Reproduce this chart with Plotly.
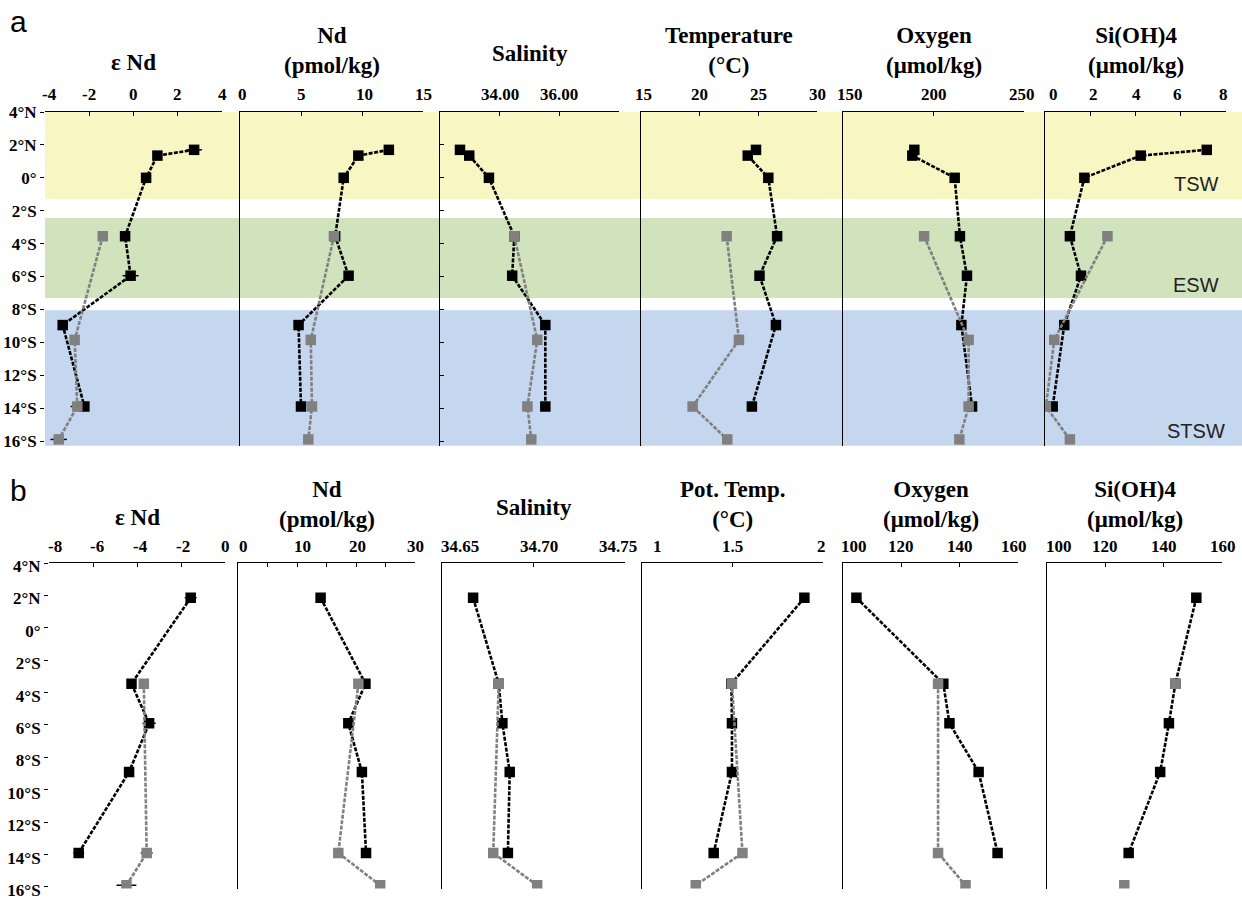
import plotly.graph_objects as go

# ---------------- data: row a (upper ocean) ----------------
lat_a_dark = [1.7, 1.35, 0.0, -3.55, -5.95, -8.95, -13.9]
lat_a_grey = [-3.55, -9.85, -13.9, -15.9]

end_a_dark = [2.74, 1.08, 0.57, -0.38, -0.13, -3.2, -2.22]
end_a_grey = [-1.39, -2.66, -2.54, -3.38]
end_a_dark_err = [0.35, 0, 0, 0, 0.36, 0, 0]
end_a_grey_err = [0, 0, 0.3, 0.37]
nd_a_dark = [12.2, 9.7, 8.5, 7.8, 8.9, 4.8, 5.0]
nd_a_grey = [7.7, 5.8, 5.9, 5.6]
sal_a_dark = [32.67, 32.98, 33.64, 34.49, 34.42, 35.53, 35.53]
sal_a_grey = [34.49, 35.26, 34.93, 35.06]
temp_a_dark = [24.8, 24.1, 25.85, 26.6, 25.1, 26.5, 24.45]
temp_a_grey = [22.3, 23.35, 19.4, 22.35]
oxy_a_dark = [189.4, 188.3, 211.7, 214.6, 218.5, 215.4, 221.3]
oxy_a_grey = [194.8, 219.4, 219.4, 214.3]
si_a_dark = [7.15, 4.23, 1.74, 1.1, 1.59, 0.85, 0.34]
si_a_grey = [2.76, 0.41, 0.04, 1.1]

# ---------------- data: row b (deep water) ----------------
lat_b_dark = [1.85, -3.45, -5.9, -8.9, -13.9]
lat_b_grey = [-3.45, -13.9, -15.9]

end_b_dark = [-1.56, -4.25, -3.45, -4.36, -6.65]
end_b_grey = [-3.69, -3.56, -4.48]
end_b_dark_err = [0.27, 0, 0.3, 0, 0.25]
end_b_grey_err = [0, 0.27, 0.45]
nd_b_dark = [14.0, 21.6, 18.7, 21.0, 21.7]
nd_b_grey = [20.4, 17.0, 24.1]
sal_b_dark = [34.667, 34.681, 34.683, 34.687, 34.686]
sal_b_grey = [34.681, 34.678, 34.702]
ptemp_b_dark = [1.897, 1.494, 1.497, 1.497, 1.396]
ptemp_b_grey = [1.497, 1.555, 1.297]
oxy_b_dark = [104.6, 134.4, 136.5, 146.5, 153.0]
oxy_b_grey = [132.6, 132.6, 142.0]
si_b_dark = [151.2, 144.0, 141.8, 138.8, 128.0]
si_b_grey = [144.0, None, 126.5]

# latitude ticks
lat_ticks = [4, 2, 0, -2, -4, -6, -8, -10, -12, -14, -16]
lat_labels = ["4°N", "2°N", "0°", "2°S", "4°S", "6°S", "8°S", "10°S", "12°S", "14°S", "16°S"]

# water-mass bands (latitude extents) for row a, with label latitude
bands = [
    ("TSW", 4.0, -1.3, "#F8F6C2", -0.4),
    ("ESW", -2.45, -7.3, "#D1E3BD", -6.5),
    ("STSW", -8.05, -16.3, "#C5D6EF", -15.4),
]

W, H = 1242, 899


def px(x):
    return x / W


def py(y):
    return 1 - y / H


SERIF = "Liberation Serif"
SANS = "Liberation Sans"
DARK = "#000000"
GREY = "#808080"

# panel definitions:
# (title, title y offset, x pixel span, range, tick values, tick labels, label x-shifts,
#  dark series, grey series, error bars)
row_a = [
    ("ε Nd", 1, (45, 222), [-4, 4], [-4, -2, 0, 2, 4], ["-4", "-2", "0", "2", "4"],
     [4, 0, 0, 0, 0], end_a_dark, end_a_grey, (end_a_dark_err, end_a_grey_err)),
    ("Nd<br>(pmol/kg)", 0, (240, 423), [0, 15], [0, 5, 10, 15], ["0", "5", "10", "15"],
     [2, 0, 2, 0], nd_a_dark, nd_a_grey, None),
    ("Salinity", -9, (440, 619), [32, 38], [32, 34, 36, 38], ["", "34.00", "36.00", ""],
     [0, 0, 0, 0], sal_a_dark, sal_a_grey, None),
    ("Temperature<br>(°C)", 0, (641, 817), [15, 30], [15, 20, 25, 30], ["15", "20", "25", "30"],
     [2, 0, 0, 0], temp_a_dark, temp_a_grey, None),
    ("Oxygen<br>(μmol/kg)", 0, (843, 1024), [150, 250], [150, 200, 250], ["150", "200", "250"],
     [7, 0, -2], oxy_a_dark, oxy_a_grey, None),
    ("Si(OH)4<br>(μmol/kg)", 0, (1045, 1226), [0, 8], [0, 2, 4, 6, 8], ["0", "2", "4", "6", "8"],
     [8, 3, 1, -3, -3], si_a_dark, si_a_grey, None),
]
row_b = [
    ("ε Nd", 1, (49, 225), [-8, 0], [-8, -6, -4, -2, 0], ["-8", "-6", "-4", "-2", "0"],
     [6, 4, 3, 2, 0], end_b_dark, end_b_grey, (end_b_dark_err, end_b_grey_err)),
    ("Nd<br>(pmol/kg)", 0, (238, 415), [0, 30], [0, 10, 20, 30], ["0", "10", "20", "30"],
     [5, 5, 1, 0], nd_b_dark, nd_b_grey, None),
    ("Salinity", -9, (442, 625), [34.65, 34.75], [34.65, 34.70, 34.75], ["34.65", "34.70", "34.75"],
     [18, 5, -7], sal_b_dark, sal_b_grey, None),
    ("Pot. Temp.<br>(°C)", 0, (642, 823), [1, 2], [1, 1.5, 2], ["1", "1.5", "2"],
     [15, 0, -2], ptemp_b_dark, ptemp_b_grey, None),
    ("Oxygen<br>(μmol/kg)", 0, (843, 1018), [100, 160], [100, 120, 140, 160], ["100", "120", "140", "160"],
     [11, 0, 0, -4], oxy_b_dark, oxy_b_grey, None),
    ("Si(OH)4<br>(μmol/kg)", 0, (1047, 1222), [100, 160], [100, 120, 140, 160], ["100", "120", "140", "160"],
     [12, 0, 0, 1], si_b_dark, si_b_grey, None),
]

rows = [
    # (panels, lat dark, lat grey, y top px, y bottom px, y range, title baseline px, label shift)
    (row_a, lat_a_dark, lat_a_grey, 112, 446, [-16.3, 4], 62, 0),
    (row_b, lat_b_dark, lat_b_grey, 563, 888.6, [-16.1, 4], 516, 3),
]

fig = go.Figure()
layout = {}
annotations = []
shapes = []

idx = 0
for r, (panels, lat_d, lat_g, ytop, ybot, yrange, title_y, lshift) in enumerate(rows):
    for p, (title, toff, (x0, x1), xr, tv, tt, tshift, vd, vg, errs) in enumerate(panels):
        idx += 1
        xa = "x" if idx == 1 else f"x{idx}"
        ya = "y" if idx == 1 else f"y{idx}"
        xkey = "xaxis" if idx == 1 else f"xaxis{idx}"
        ykey = "yaxis" if idx == 1 else f"yaxis{idx}"

        dark_err = dict(type="data", array=errs[0], visible=True, color=DARK,
                        thickness=1.5, width=0) if errs else None
        grey_err = dict(type="data", array=errs[1], visible=True, color=DARK,
                        thickness=1.5, width=0) if errs else None

        fig.add_trace(go.Scatter(
            x=vd, y=lat_d, xaxis=xa, yaxis=ya, mode="lines+markers",
            line=dict(color=DARK, width=2.6, dash="4px,1.5px"),
            marker=dict(symbol="square", size=10.5, color=DARK),
            error_x=dark_err, showlegend=False, connectgaps=False))
        fig.add_trace(go.Scatter(
            x=vg, y=lat_g, xaxis=xa, yaxis=ya, mode="lines+markers",
            line=dict(color=GREY, width=2.6, dash="4px,1.5px"),
            marker=dict(symbol="square", size=10.5, color=GREY),
            error_x=grey_err, showlegend=False, connectgaps=False))

        first = p == 0
        layout[xkey] = dict(
            domain=[px(x0), px(x1)], range=xr, side="top", anchor=ya,
            showline=True, linecolor="black", linewidth=1.2,
            ticks="inside", ticklen=4, tickcolor="black",
            tickvals=tv, showticklabels=False, automargin=False,
            showgrid=False, zeroline=False, fixedrange=True,
        )
        if r == 1 and p == 1:
            layout[xkey]["minor"] = dict(ticks="inside", ticklen=4, tickcolor="black", dtick=5)
        layout[ykey] = dict(
            domain=[py(ybot), py(ytop)], range=yrange, anchor=xa,
            showline=not first, linecolor="black", linewidth=1.2,
            ticks="outside" if first else ("inside" if (r == 0 and p == 2) else ""),
            ticklen=4, tickcolor="black", automargin=False,
            tickvals=lat_ticks, ticktext=lat_labels,
            showticklabels=first, ticklabeloverflow="allow", ticklabelshift=lshift,
            tickfont=dict(family=SERIF, size=17, color="black", weight="bold"),
            showgrid=False, zeroline=False, fixedrange=True,
        )

        # value labels above each axis, placed on the axis scale
        for v, lab, sh in zip(tv, tt, tshift):
            if not lab:
                continue
            annotations.append(dict(
                text=lab, x=v, xref=xa, y=py(ytop - 17), yref="paper", xshift=sh,
                showarrow=False, xanchor="center", yanchor="middle",
                font=dict(family=SERIF, size=17, color="black", weight="bold")))

        # panel title (bold serif, one or two lines)
        cx = px((x0 + x1) / 2)
        tfont = dict(family=SERIF, size=23, color="black", weight="bold")
        ty = title_y + toff if "<br>" not in title else title_y - 12
        annotations.append(dict(
            text=title, x=cx, y=py(ty), xref="paper", yref="paper",
            showarrow=False, xanchor="center", yanchor="middle", font=tfont))

# water-mass bands behind row a
for name, top, bot, color, ylab in bands:
    shapes.append(dict(type="rect", xref="paper", yref="y", x0=px(45), x1=1,
                       y0=bot, y1=top, fillcolor=color, line=dict(width=0), layer="below"))
    annotations.append(dict(
        text=name, x=px(1196), y=ylab, xref="paper", yref="y", showarrow=False,
        xanchor="center", yanchor="middle",
        font=dict(family=SANS, size=20, color="#222222")))
shapes.append(dict(type="line", xref="paper", yref="y", x0=px(45), x1=1,
                   y0=-16.3, y1=-16.3, line=dict(color="#D8E8B8", width=2), layer="below"))

# row letters
for letter, ypos in [("a", 22), ("b", 490)]:
    annotations.append(dict(
        text=letter, x=px(8), y=py(ypos), xref="paper", yref="paper", showarrow=False,
        xanchor="left", yanchor="middle",
        font=dict(family=SANS, size=30, color="black")))

fig.update_layout(
    template="none",
    width=W, height=H, margin=dict(l=0, r=0, t=0, b=0, pad=0, autoexpand=False),
    font=dict(family=SERIF, color="black"),
    paper_bgcolor="white", plot_bgcolor="rgba(0,0,0,0)",
    annotations=annotations, shapes=shapes, showlegend=False,
    **layout,
)

fig.write_html("out.html")
